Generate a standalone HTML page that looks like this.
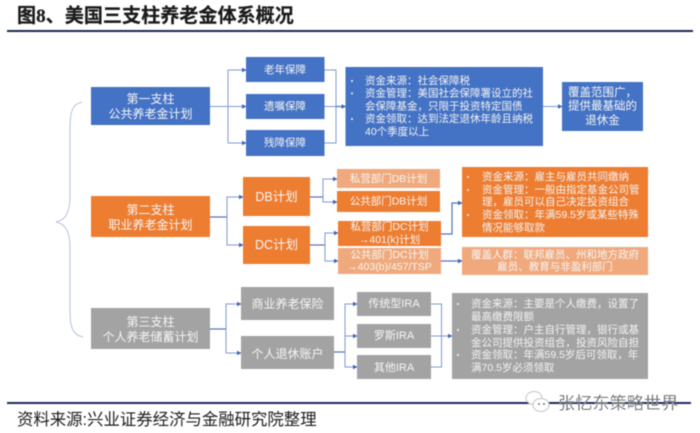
<!DOCTYPE html>
<html lang="zh">
<head>
<meta charset="utf-8">
<style>
html,body{margin:0;padding:0;background:#fff;width:700px;height:433px;overflow:hidden}
svg{display:block;filter:blur(0.45px)}
text{font-family:"Liberation Sans","Noto Sans CJK SC",sans-serif}
.c{text-anchor:middle;fill:#f6f6f6;dominant-baseline:central}
.l{fill:#f4f4f4;font-size:10.5px;dominant-baseline:central}
.ln{fill:none;stroke:#7d98d0;stroke-width:1}
.ln2{fill:none;stroke:#4f74bd;stroke-width:1.2}
</style>
</head>
<body>
<svg width="700" height="433" viewBox="0 0 700 433" xmlns="http://www.w3.org/2000/svg">
<defs>
<marker id="a" markerWidth="5" markerHeight="5" refX="4" refY="2.5" orient="auto" markerUnits="userSpaceOnUse"><path d="M0,0.3L4.5,2.5L0,4.7z" fill="#3e63b5"/></marker>
</defs>

<text x="17" y="22" font-size="19.1px" font-weight="700" fill="#1a1a1a" stroke="#1a1a1a" stroke-width="0.2">图<tspan font-family="Liberation Serif">8</tspan>、美国三支柱养老金体系概况</text>
<rect x="7" y="30" width="686" height="2" fill="#1a2a50"/>

<path d="M82,102 C72,104 70,112 70,130 L70,196 C70,212 66,220 56,222 C66,224 70,232 70,248 L70,310 C70,328 73,335 83,337" fill="none" stroke="#b4c2dc" stroke-width="1"/>

<g class="ln">
<path d="M210,106.5H228M228,70V143" class="ln"/>
<path d="M228,70H246" class="ln" marker-end="url(#a)"/>
<path d="M228,106.5H246" class="ln" marker-end="url(#a)"/>
<path d="M228,143H246" class="ln" marker-end="url(#a)"/>
<path d="M324,70H336V143H324M324,106.5H345" class="ln"/>
<path d="M336,106.5H345.5" class="ln2" marker-end="url(#a)"/>
<path d="M543,106.5H562" class="ln" marker-end="url(#a)"/>
</g>

<path d="M210,217H227" class="ln2"/>
<path d="M227,217V197H243" class="ln" marker-end="url(#a)"/>
<path d="M227,217V245H243" class="ln" marker-end="url(#a)"/>
<path d="M310,197H323" class="ln2"/>
<path d="M323,197V179H337" class="ln" marker-end="url(#a)"/>
<path d="M323,197V202H337" class="ln" marker-end="url(#a)"/>
<path d="M310,245H325" class="ln2"/>
<path d="M325,245V233H338" class="ln" marker-end="url(#a)"/>
<path d="M325,245V261H338" class="ln" marker-end="url(#a)"/>
<path d="M441,234H452V203H462" class="ln2" marker-end="url(#a)"/>
<path d="M441,261H462" class="ln2" marker-end="url(#a)"/>

<path d="M210,329H226" class="ln2"/>
<path d="M226,329V304H241" class="ln" marker-end="url(#a)"/>
<path d="M226,329V353H241" class="ln" marker-end="url(#a)"/>
<path d="M334,352H345" class="ln2"/>
<path d="M345,352V304H357" class="ln" marker-end="url(#a)"/>
<path d="M345,336H357" class="ln" marker-end="url(#a)"/>
<path d="M345,352V367H357" class="ln" marker-end="url(#a)"/>
<path d="M431,304H441.5V367H431M431,336H441.5" class="ln"/>
<path d="M441.5,336H452" class="ln" marker-end="url(#a)"/>

<g fill="#4472c4">
<rect x="91" y="87" width="119" height="38"/>
<rect x="246" y="57" width="78.5" height="25"/>
<rect x="246" y="94" width="78.5" height="25"/>
<rect x="246" y="130" width="78.5" height="26"/>
<rect x="345.5" y="67" width="197.5" height="79"/>
<rect x="562" y="82" width="81" height="49"/>
</g>
<g fill="#ed7d31">
<rect x="91" y="196" width="119" height="41"/>
<rect x="243" y="177" width="67" height="39"/>
<rect x="243" y="226" width="67" height="38"/>
<rect x="337" y="191" width="103" height="21"/>
<rect x="338" y="221" width="103" height="25"/>
<rect x="462" y="167" width="186" height="70"/>
</g>
<g fill="#f0a97c">
<rect x="337" y="169" width="103" height="19"/>
<rect x="338" y="248" width="103" height="26"/>
<rect x="462" y="247" width="186" height="28"/>
</g>
<g fill="#a3a3a3">
<rect x="91" y="308" width="119" height="41"/>
<rect x="241" y="287" width="93" height="33"/>
<rect x="241" y="336" width="93" height="33"/>
<rect x="357" y="292" width="74" height="24"/>
<rect x="357" y="324" width="74" height="24"/>
<rect x="357" y="355" width="74" height="24"/>
<rect x="452" y="293" width="196" height="86"/>
</g>

<g font-size="12px">
<text class="c" x="150.5" y="99">第一支柱</text>
<text class="c" x="150.5" y="114">公共养老金计划</text>
<text class="c" x="150.5" y="210">第二支柱</text>
<text class="c" x="150.5" y="225">职业养老金计划</text>
<text class="c" x="150.5" y="322">第三支柱</text>
<text class="c" x="150.5" y="337">个人养老储蓄计划</text>
<text class="c" x="287.5" y="304">商业养老保险</text>
<text class="c" x="287.5" y="354">个人退休账户</text>
</g>
<g font-size="10.5px">
<text class="c" x="285" y="70">老年保障</text>
<text class="c" x="285" y="106.5">遗嘱保障</text>
<text class="c" x="285" y="143">残障保障</text>
<text class="c" x="388.5" y="179">私营部门DB计划</text>
<text class="c" x="388.5" y="201.5">公共部门DB计划</text>
<text class="c" x="389.5" y="227">私营部门DC计划</text>
<text class="c" x="389.5" y="240">→401(k)计划</text>
<text class="c" x="389.5" y="255">公共部门DC计划</text>
<text class="c" x="389.5" y="267">→403(b)/457/TSP</text>
<text class="c" x="555" y="255">覆盖人群：联邦雇员、州和地方政府</text>
<text class="c" x="555" y="267">雇员、教育与非盈利部门</text>
</g>
<g font-size="11.5px">
<text class="c" x="602.5" y="93">覆盖范围广，</text>
<text class="c" x="602.5" y="106.5">提供最基础的</text>
<text class="c" x="602.5" y="121">退休金</text>
</g>
<g font-size="12.5px">
<text class="c" x="276.5" y="197">DB计划</text>
<text class="c" x="276.5" y="245">DC计划</text>
</g>
<g font-size="11px">
<text class="c" x="394" y="304">传统型IRA</text>
<text class="c" x="394" y="336">罗斯IRA</text>
<text class="c" x="394" y="368">其他IRA</text>
</g>

<g>
<circle cx="352" cy="81" r="1" fill="#f4f4f4"/><circle cx="352" cy="93.5" r="1" fill="#f4f4f4"/><circle cx="352" cy="119" r="1" fill="#f4f4f4"/>
<text class="l" x="365" y="81">资金来源：社会保障税</text>
<text class="l" x="365" y="93.5">资金管理：美国社会保障署设立的社</text>
<text class="l" x="365" y="106.5">会保障基金，只限于投资特定国债</text>
<text class="l" x="365" y="119">资金领取：达到法定退休年龄且纳税</text>
<text class="l" x="365" y="132">40个季度以上</text>
</g>
<g>
<circle cx="468" cy="177" r="1" fill="#f4f4f4"/><circle cx="468" cy="190" r="1" fill="#f4f4f4"/><circle cx="468" cy="215" r="1" fill="#f4f4f4"/>
<text class="l" x="482" y="177">资金来源：雇主与雇员共同缴纳</text>
<text class="l" x="482" y="190">资金管理：一般由指定基金公司管</text>
<text class="l" x="482" y="202">理，雇员可以自己决定投资组合</text>
<text class="l" x="482" y="215">资金领取：年满59.5岁或某些特殊</text>
<text class="l" x="482" y="228">情况能够取款</text>
</g>
<g>
<circle cx="458" cy="304" r="1" fill="#f4f4f4"/><circle cx="458" cy="330" r="1" fill="#f4f4f4"/><circle cx="458" cy="355" r="1" fill="#f4f4f4"/>
<text class="l" x="471" y="304">资金来源：主要是个人缴费，设置了</text>
<text class="l" x="471" y="317">最高缴费限额</text>
<text class="l" x="471" y="330">资金管理：户主自行管理，银行或基</text>
<text class="l" x="471" y="343">金公司提供投资组合，投资风险自担</text>
<text class="l" x="471" y="355">资金领取：年满59.5岁后可领取，年</text>
<text class="l" x="471" y="368">满70.5岁必须领取</text>
</g>

<rect x="7" y="402" width="684" height="2" fill="#1a2a60"/>
<text x="17" y="425" font-size="16.4px" fill="#1c1c1c">资料来源:兴业证券经济与金融研究院整理</text>

<g fill="#fff" stroke="#c4c4c4" stroke-width="1">
<ellipse cx="534" cy="398" rx="8" ry="6.5"/>
<ellipse cx="541" cy="405" rx="8" ry="6.5"/>
</g>
<circle cx="539" cy="404" r="0.9" fill="#555"/><circle cx="544" cy="404" r="0.9" fill="#555"/>
<text x="558" y="409" font-size="17.2px" fill="#666" stroke="#fff" stroke-width="0.2">张忆东策略世界</text>
</svg>
</body>
</html>
